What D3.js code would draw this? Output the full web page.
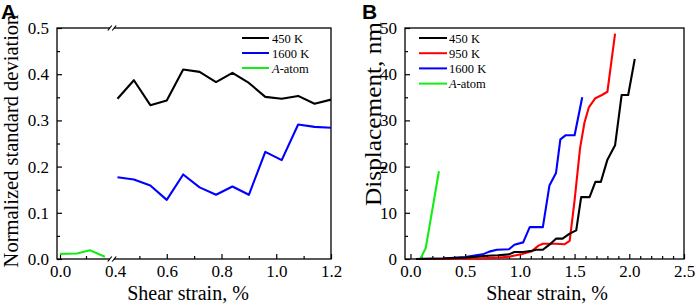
<!DOCTYPE html>
<html><head><meta charset="utf-8">
<script src="https://cdn.jsdelivr.net/npm/d3@7"></script>
<style>body{margin:0;background:#fff}svg{display:block}</style>
</head><body>
<svg id="c" width="699" height="307"></svg>
<script>
// ---- Panel A data ----
const aSeriesNames = ["450 K", "1600 K", "A-atom"];
const aColors = ["#000000", "#0000ff", "#11ee11"];
const aStrain = [0.42, 0.48, 0.54, 0.60, 0.66, 0.72, 0.78, 0.84, 0.90, 0.96, 1.02, 1.08, 1.14, 1.20];
const a450 = [0.347, 0.387, 0.333, 0.343, 0.410, 0.405, 0.383, 0.403, 0.381, 0.351, 0.347, 0.353, 0.336, 0.345];
const a1600 = [0.177, 0.172, 0.159, 0.128, 0.183, 0.155, 0.139, 0.157, 0.139, 0.232, 0.214, 0.291, 0.286, 0.284];
const aAtomStrain = [0.0, 0.13, 0.23, 0.345];
const aAtomValue = [0.011, 0.012, 0.019, 0.005];
const aYTicks = [0.0, 0.1, 0.2, 0.3, 0.4, 0.5];
const aXTicksLeft = [0.0];
const aXTicksRight = [0.4, 0.6, 0.8, 1.0, 1.2];

// ---- Panel B data ----
const bSeriesNames = ["450 K", "950 K", "1600 K", "A-atom"];
const bColors = ["#000000", "#ff0000", "#0000ff", "#11ee11"];
const b450 = [[0.05,0],[0.3,0.1],[0.5,0.3],[0.6,0.5],[0.7,0.7],[0.8,0.8],[0.9,1.0],[0.95,1.5],[1.03,1.5],[1.11,1.8],[1.15,2.0],[1.21,2.0],[1.27,3.1],[1.33,4.4],[1.39,4.4],[1.455,5.5],[1.515,6.2],[1.56,13.4],[1.637,13.4],[1.69,16.7],[1.74,16.7],[1.80,21.5],[1.87,24.6],[1.93,35.5],[1.99,35.5],[2.05,43.3]];
const b950 = [[0.05,0],[0.3,0],[0.6,0.1],[0.8,0.3],[0.9,0.5],[1.02,1.1],[1.11,1.7],[1.17,2.9],[1.21,3.3],[1.32,3.3],[1.41,3.2],[1.455,3.9],[1.50,12.7],[1.55,24.0],[1.59,29.5],[1.63,32.8],[1.69,34.8],[1.75,35.5],[1.80,36.2],[1.87,48.8]];
const b1600 = [[0.05,0],[0.3,0.1],[0.5,0.4],[0.6,0.8],[0.66,1.0],[0.72,1.6],[0.79,2.0],[0.9,2.1],[0.95,3.1],[1.03,3.6],[1.09,6.9],[1.21,6.9],[1.27,15.9],[1.33,18.6],[1.37,25.9],[1.42,26.8],[1.5,26.8],[1.57,35.0]];
const bAtom = [[0.09,0],[0.14,2.4],[0.26,19.0]];
const bXTicks = [0.0, 0.5, 1.0, 1.5, 2.0, 2.5];
const bYTicks = [0, 10, 20, 30, 40, 50];

const SERIF = '"Liberation Serif", "Times New Roman", "DejaVu Serif", serif';
const SANS = '"Liberation Sans", Arial, sans-serif';
const svg = d3.select("#c");
const fmt1 = d3.format(".1f");

function styleTicks(g) {
  g.select(".domain").remove();
  g.selectAll("text").style("font-family", SERIF).style("font-size", "17px").attr("fill", "#000");
  g.selectAll("line").attr("stroke-width", 1.2);
}
function box(g, x0, x1, y0, y1) {
  g.append("rect").attr("x", x0).attr("y", y0).attr("width", x1 - x0).attr("height", y1 - y0)
    .attr("fill", "none").attr("stroke", "#000").attr("stroke-width", 1.3);
}
function serifText(g, size) {
  return g.append("text").style("font-family", SERIF).style("font-size", size + "px").attr("fill", "#000");
}

// ================= Panel A =================
const A = {l: 57, r: 331, t: 28, b: 259, brk: 112};
const ax = svg.append("g");
const xL = d3.scaleLinear().domain([0, 0.4]).range([60, A.brk]);
const xR = d3.scaleLinear().domain([0.4, 1.2]).range([A.brk, A.r]);
const yA = d3.scaleLinear().domain([0, 0.5]).range([A.b, A.t]);

ax.append("g").attr("transform", `translate(${A.l},0)`)
  .call(d3.axisLeft(yA).tickValues(aYTicks).tickFormat(fmt1).tickSize(-5).tickPadding(8)).call(styleTicks);
ax.append("g").attr("transform", `translate(${A.l},0)`)
  .call(d3.axisLeft(yA).tickValues(d3.range(0.05, 0.5, 0.1)).tickFormat("").tickSize(-3)).call(styleTicks);
ax.append("g").attr("transform", `translate(0,${A.b})`)
  .call(d3.axisBottom(xL).tickValues(aXTicksLeft).tickFormat(fmt1).tickSize(-5).tickPadding(6)).call(styleTicks);
ax.append("g").attr("transform", `translate(0,${A.b})`)
  .call(d3.axisBottom(xL).tickValues([0.2]).tickFormat("").tickSize(-3)).call(styleTicks);
ax.append("g").attr("transform", `translate(0,${A.b})`)
  .call(d3.axisBottom(xR).tickValues(aXTicksRight).tickFormat(fmt1).tickSize(-5).tickPadding(6)).call(styleTicks)
  .call(g => {
    g.selectAll(".tick").filter(d => d === 0.4).select("line").remove();
    g.selectAll(".tick").filter(d => d === 0.4).select("text").attr("dx", 3);
  });
ax.append("g").attr("transform", `translate(0,${A.b})`)
  .call(d3.axisBottom(xR).tickValues([0.5, 0.7, 0.9, 1.1]).tickFormat("").tickSize(-3)).call(styleTicks);

box(ax, A.l, A.r, A.t, A.b);
[A.t, A.b].forEach(yy => {
  ax.append("rect").attr("x", A.brk - 2).attr("y", yy - 2).attr("width", 4).attr("height", 4).attr("fill", "#fff");
  [-2.2, 2.2].forEach(dx => ax.append("line").attr("x1", A.brk + dx - 2).attr("y1", yy + 2.5).attr("x2", A.brk + dx + 2).attr("y2", yy - 2.5)
    .attr("stroke", "#000").attr("stroke-width", 1.2));
});

const lineA = d3.line().x(d => d[0] < 0.4 ? xL(d[0]) : xR(d[0])).y(d => yA(d[1]));
const aData = [d3.zip(aStrain, a450), d3.zip(aStrain, a1600), d3.zip(aAtomStrain, aAtomValue)];
aData.forEach((s, i) => ax.append("path").attr("d", lineA(s)).attr("fill", "none").attr("stroke", aColors[i]).attr("stroke-width", 2.1).attr("stroke-linejoin", "round"));

aSeriesNames.forEach((n, i) => {
  const yy = 38 + i * 15;
  ax.append("line").attr("x1", 242).attr("x2", 269).attr("y1", yy).attr("y2", yy).attr("stroke", aColors[i]).attr("stroke-width", 2);
  const t = serifText(ax, 12.5).attr("x", 272).attr("y", yy + 4.5);
  if (n === "A-atom") { t.append("tspan").attr("font-style", "italic").text("A"); t.append("tspan").text("-atom"); }
  else t.text(n);
});

serifText(ax, 20).attr("x", 188).attr("y", 299.5).attr("text-anchor", "middle").text("Shear strain, %");
serifText(ax, 20.5).attr("transform", "translate(18,141) rotate(-90)").attr("text-anchor", "middle").text("Normalized standard deviation");
ax.append("text").attr("x", 1).attr("y", 19).style("font-size", "21px").attr("font-weight", "bold").style("font-family", SANS).text("A");

// ================= Panel B =================
const B = {l: 405, r: 684, t: 28, b: 259};
const bx = svg.append("g");
const xB = d3.scaleLinear().domain([-0.05, 2.5]).range([B.l, B.r]);
const yB = d3.scaleLinear().domain([0, 50]).range([B.b, B.t]);

bx.append("g").attr("transform", `translate(${B.l},0)`)
  .call(d3.axisLeft(yB).tickValues(bYTicks).tickSize(-5).tickPadding(8)).call(styleTicks);
bx.append("g").attr("transform", `translate(${B.l},0)`)
  .call(d3.axisLeft(yB).tickValues(d3.range(5, 50, 10)).tickFormat("").tickSize(-3)).call(styleTicks);
bx.append("g").attr("transform", `translate(0,${B.b})`)
  .call(d3.axisBottom(xB).tickValues(bXTicks).tickFormat(fmt1).tickSize(-5).tickPadding(6)).call(styleTicks);
bx.append("g").attr("transform", `translate(0,${B.b})`)
  .call(d3.axisBottom(xB).tickValues(d3.range(1, 25).filter(v => v % 5 !== 0).map(v => v / 10)).tickFormat("").tickSize(-3)).call(styleTicks);
box(bx, B.l, B.r, B.t, B.b);

const lineB = d3.line().x(d => xB(d[0])).y(d => yB(d[1]));
const bData = [b450, b950, b1600, bAtom];
[3, 2, 1, 0].forEach(i => bx.append("path").attr("d", lineB(bData[i])).attr("fill", "none").attr("stroke", bColors[i]).attr("stroke-width", 2.1).attr("stroke-linejoin", "round"));

bSeriesNames.forEach((n, i) => {
  const yy = 38 + i * 15.2;
  bx.append("line").attr("x1", 419).attr("x2", 447).attr("y1", yy).attr("y2", yy).attr("stroke", bColors[i]).attr("stroke-width", 2);
  const t = serifText(bx, 12.5).attr("x", 449).attr("y", yy + 4.5);
  if (n === "A-atom") { t.append("tspan").attr("font-style", "italic").text("A"); t.append("tspan").text("-atom"); }
  else t.text(n);
});

serifText(bx, 20).attr("x", 547).attr("y", 299.5).attr("text-anchor", "middle").text("Shear strain, %");
serifText(bx, 23).attr("transform", "translate(381,114) rotate(-90)").attr("text-anchor", "middle")
  .attr("textLength", 184).attr("lengthAdjust", "spacingAndGlyphs").text("Displacement, nm");
bx.append("text").attr("x", 362).attr("y", 19).style("font-size", "21px").attr("font-weight", "bold").style("font-family", SANS).text("B");
</script>
</body></html>
